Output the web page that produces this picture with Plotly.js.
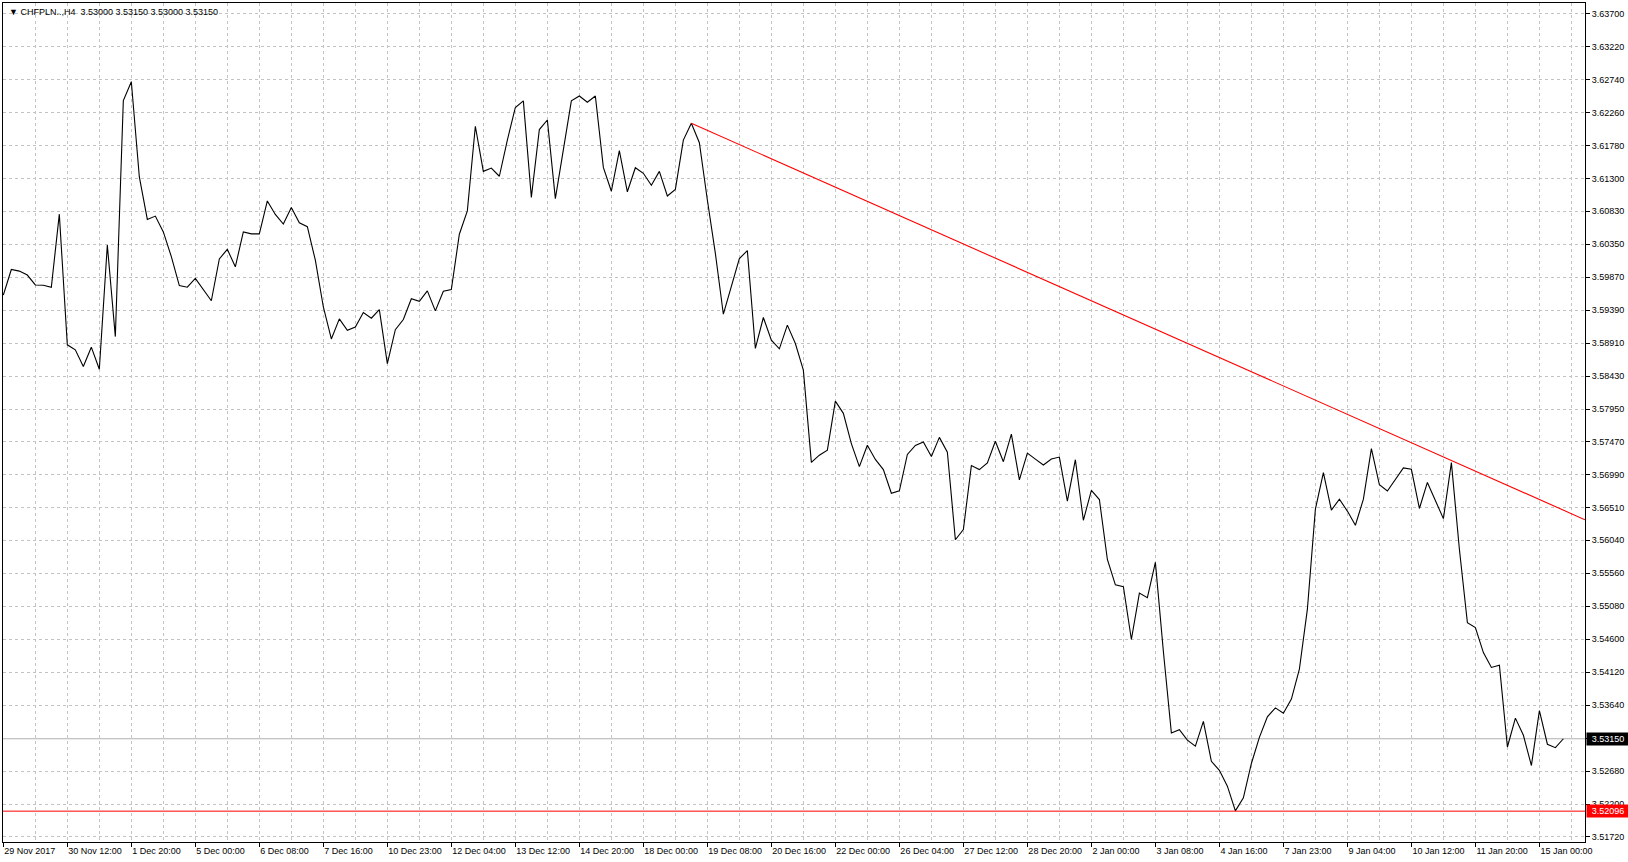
<!DOCTYPE html>
<html>
<head>
<meta charset="utf-8">
<script src="https://cdn.plot.ly/plotly-3.0.1.min.js"></script>
<style>
html,body{margin:0;padding:0;background:#fff;}
#chart{width:1628px;height:862px;}
</style>
</head>
<body>
<div id="chart"></div>
<script>
// CHFPLN H4 close prices, one per 4-hour bar (bar index 0..195)
const closes = [
3.59608,3.59981,3.59957,3.59900,3.59756,3.59751,3.59723,3.60786,3.58884,3.58812,
3.58568,3.58850,3.58529,3.60336,3.59004,3.62440,3.62713,3.61328,3.60710,3.60758,
3.60528,3.60168,3.59747,3.59723,3.59852,3.59684,3.59526,3.60135,3.60274,3.60020,
3.60528,3.60499,3.60499,3.60978,3.60782,3.60643,3.60882,3.60660,3.60604,3.60116,
3.59435,3.58970,3.59262,3.59095,3.59143,3.59354,3.59272,3.59397,3.58611,3.59104,
3.59253,3.59555,3.59517,3.59670,3.59378,3.59665,3.59689,3.60494,3.60834,3.62066,
3.61409,3.61457,3.61338,3.61865,3.62339,3.62435,3.61031,3.62018,3.62157,3.61012,
3.61721,3.62435,3.62507,3.62416,3.62507,3.61467,3.61120,3.61711,3.61112,3.61462,
3.61381,3.61208,3.61409,3.61050,3.61146,3.61865,3.62109,3.61826,3.60992,3.60216,
3.59330,3.59751,3.60140,3.60255,3.58831,3.59282,3.58951,3.58826,3.59171,3.58903,
3.58515,3.57173,3.57278,3.57351,3.58065,3.57887,3.57447,3.57111,3.57423,3.57216,
3.57068,3.56723,3.56760,3.57288,3.57420,3.57470,3.57259,3.57537,3.57322,3.56047,
3.56196,3.57126,3.57068,3.57164,3.57480,3.57183,3.57585,3.56919,3.57308,3.57221,
3.57135,3.57221,3.57250,3.56608,3.57212,3.56330,3.56766,3.56632,3.55760,3.55391,
3.55362,3.54595,3.55271,3.55204,3.55717,3.54420,3.53234,3.53282,3.53129,3.53042,
3.53402,3.52822,3.52690,3.52460,3.52100,3.52290,3.52790,3.53170,3.53469,3.53599,
3.53522,3.53728,3.54164,3.55036,3.56493,3.57025,3.56478,3.56637,3.56464,3.56258,
3.56637,3.57374,3.56847,3.56757,3.56929,3.57092,3.57072,3.56502,3.56881,3.56613,
3.56354,3.57169,3.55908,3.54840,3.54768,3.54404,3.54188,3.54222,3.53030,3.53450,
3.53200,3.52760,3.53560,3.53070,3.53020,3.53150
];

// time-axis labels, one every 8 bars starting at bar 0
const xLabels = [
"29 Nov 2017","30 Nov 12:00","1 Dec 20:00","5 Dec 00:00","6 Dec 08:00","7 Dec 16:00",
"10 Dec 23:00","12 Dec 04:00","13 Dec 12:00","14 Dec 20:00","18 Dec 00:00","19 Dec 08:00",
"20 Dec 16:00","22 Dec 00:00","26 Dec 04:00","27 Dec 12:00","28 Dec 20:00","2 Jan 00:00",
"3 Jan 08:00","4 Jan 16:00","7 Jan 23:00","9 Jan 04:00","10 Jan 12:00","11 Jan 20:00",
"15 Jan 00:00"
];
const barsPerLabel = 8;

// price-axis ticks
const yTickVals = [3.63700,3.63220,3.62740,3.62260,3.61780,3.61300,3.60830,3.60350,3.59870,
3.59390,3.58910,3.58430,3.57950,3.57470,3.56990,3.56510,3.56040,3.55560,3.55080,3.54600,
3.54120,3.53640,3.53158,3.52680,3.52200,3.51720];
const yTickText = ["3.63700","3.63220","3.62740","3.62260","3.61780","3.61300","3.60830","3.60350","3.59870",
"3.59390","3.58910","3.58430","3.57950","3.57470","3.56990","3.56510","3.56040","3.55560","3.55080","3.54600",
"3.54120","3.53640","","3.52680","3.52200","3.51720"];

// header
const symbol = "CHFPLN..,H4";
const ohlc = ["3.53000","3.53150","3.53000","3.53150"];

// horizontal levels
const bidPrice = 3.53150;
const supportPrice = 3.52096;
// trend line anchors (bar index, price) and right-edge extension
const trendX = [86, 197.7];
const trendY = [3.62109, 3.56338];

const xIdx = closes.map((_, i) => i);
const xTickVals = xLabels.map((_, k) => k * barsPerLabel);

const FONT = "Liberation Sans, Arial, sans-serif";
const gridCol = "#c3c3c3";

const traces = [
  {x: xIdx, y: closes, type: "scatter", mode: "lines",
   line: {color: "#000000", width: 1.1}, hoverinfo: "skip"},
  {x: trendX, y: trendY, type: "scatter", mode: "lines",
   line: {color: "#ff0000", width: 1.1}, hoverinfo: "skip"}
];

const layout = {
  width: 1628, height: 862,
  margin: {l: 3, r: 43, t: 3, b: 20, pad: 0},
  paper_bgcolor: "#ffffff", plot_bgcolor: "#ffffff",
  showlegend: false,
  font: {family: FONT, size: 9, color: "#000"},
  xaxis: {
    range: [-0.04, 197.7], fixedrange: true,
    tickmode: "array", tickvals: xTickVals, ticktext: xLabels,
    ticks: "outside", ticklen: 4, tickcolor: "#000", tickwidth: 1,
    ticklabelposition: "outside right",
    tickfont: {family: FONT, size: 9, color: "#000"},
    showgrid: true, gridcolor: gridCol, griddash: "3px,3px", gridwidth: 1,
    minor: {tickmode: "linear", tick0: 0, dtick: 4, showgrid: true, gridcolor: gridCol, griddash: "3px,3px", gridwidth: 1, ticks: ""},
    showline: true, linecolor: "#000", linewidth: 1, mirror: true,
    zeroline: false
  },
  yaxis: {
    side: "right",
    range: [3.51647, 3.63860], fixedrange: true,
    tickmode: "array", tickvals: yTickVals, ticktext: yTickText,
    ticks: "outside", ticklen: 4, tickcolor: "#000", tickwidth: 1,
    tickfont: {family: FONT, size: 9, color: "#000"},
    showgrid: true, gridcolor: gridCol, griddash: "3px,3px", gridwidth: 1,
    showline: true, linecolor: "#000", linewidth: 1, mirror: true,
    zeroline: false
  },
  shapes: [
    {type: "line", xref: "paper", x0: 0, x1: 1, yref: "y", y0: bidPrice, y1: bidPrice,
     line: {color: "#b0b0b0", width: 1}, layer: "below"},
    {type: "line", xref: "paper", x0: 0, x1: 1, yref: "y", y0: supportPrice, y1: supportPrice,
     line: {color: "#ff0000", width: 1}}
  ],
  annotations: [
    {xref: "paper", yref: "paper", x: 0, y: 1, xanchor: "left", yanchor: "top",
     xshift: 4, yshift: -2, showarrow: false,
     text: "▼ " + symbol + "  " + ohlc.join(" "),
     font: {family: FONT, size: 9, color: "#000"}},
    {xref: "paper", yref: "y", x: 1, y: bidPrice, xanchor: "left", yanchor: "middle",
     xshift: 1, showarrow: false, text: bidPrice.toFixed(5), bgcolor: "#000000",
     borderpad: 1, width: 40, align: "center",
     font: {family: FONT, size: 9, color: "#ffffff"}},
    {xref: "paper", yref: "y", x: 1, y: supportPrice, xanchor: "left", yanchor: "middle",
     xshift: 1, showarrow: false, text: supportPrice.toFixed(5), bgcolor: "#ff0000",
     borderpad: 1, width: 40, align: "center",
     font: {family: FONT, size: 9, color: "#ffffff"}}
  ]
};

Plotly.newPlot("chart", traces, layout, {displayModeBar: false, staticPlot: true});
</script>
</body>
</html>
